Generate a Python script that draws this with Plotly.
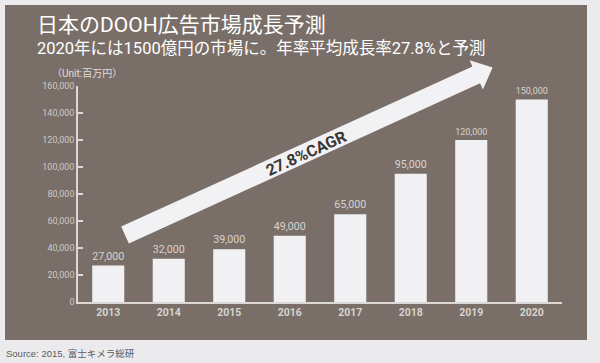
import math
import plotly.graph_objects as go

# ---- data ----
years = ["2013", "2014", "2015", "2016", "2017", "2018", "2019", "2020"]
market_values = [27000, 32000, 39000, 49000, 65000, 95000, 120000, 150000]
value_labels = ["27,000", "32,000", "39,000", "49,000", "65,000", "95,000", "120,000", "150,000"]
y_ticks = [0, 20000, 40000, 60000, 80000, 100000, 120000, 140000, 160000]
y_tick_labels = ["0", "20,000", "40,000", "60,000", "80,000", "100,000", "120,000", "140,000", "160,000"]

title_text = "日本のDOOH広告市場成長予測"
subtitle_text = "2020年には1500億円の市場に。年率平均成長率27.8%と予測"
unit_text = "（Unit:百万円）"
source_text = "Source: 2015, 富士キメラ総研"
cagr_text = "27.8%CAGR"

# ---- layout geometry (pixels) ----
W, H = 600, 363
ML, MR, MT, MB = 78, 38, 86, 61
PW, PH = W - ML - MR, H - MT - MB

def px(x):
    return (x - ML) / PW

def py(y):
    return (H - MB - y) / PH

PANEL = "#7a6f68"
OUTER = "#ebebed"
BAR = "#f1f1f3"
LIGHT = "#d8d3cf"
FONT = "Roboto, 'Noto Sans CJK JP', sans-serif"

fig = go.Figure()
fig.add_trace(go.Bar(
    x=years, y=market_values, text=value_labels,
    textposition="outside", cliponaxis=False,
    textfont=dict(family=FONT, size=11, color=LIGHT),
    marker=dict(color=BAR, line=dict(width=0)),
    hoverinfo="skip",
))

shapes = []
# brown panel
shapes.append(dict(type="rect", xref="paper", yref="paper", layer="below",
                   x0=px(5), x1=px(587), y0=py(340), y1=py(5),
                   fillcolor=PANEL, line=dict(width=0)))

# big arrow
tx, ty = 125, 235
ang = math.radians(24.5)
L = 404
half = 9.25
head_len = 18
head_half = 16
ux, uy = math.cos(ang), -math.sin(ang)
nx, ny = math.sin(ang), math.cos(ang)
tipx, tipy = tx + L * ux, ty + L * uy
bx, by = tipx - head_len * ux, tipy - head_len * uy
pts = [
    (tx - half * nx, ty - half * ny),
    (bx - half * nx, by - half * ny),
    (bx - head_half * nx, by - head_half * ny),
    (tipx, tipy),
    (bx + head_half * nx, by + head_half * ny),
    (bx + half * nx, by + half * ny),
    (tx + half * nx, ty + half * ny),
]
path = "M " + " L ".join(f"{px(a):.5f},{py(b):.5f}" for a, b in pts) + " Z"
shapes.append(dict(type="path", xref="paper", yref="paper", path=path,
                   fillcolor="#f2f2f4", line=dict(width=0), layer="above"))

# text on arrow
t_along = (306 - tx) / ux
cx, cy = tx + t_along * ux, ty + t_along * uy + 1

annotations = [
    dict(text=title_text, xref="paper", yref="paper", x=px(35), y=py(25),
         xanchor="left", yanchor="middle", showarrow=False,
         font=dict(family=FONT, size=21, color="#ffffff")),
    dict(text=subtitle_text, xref="paper", yref="paper", x=px(35), y=py(48),
         xanchor="left", yanchor="middle", showarrow=False,
         font=dict(family=FONT, size=16.5, color="#ffffff")),
    dict(text=unit_text, xref="paper", yref="paper", x=px(50), y=py(73),
         xanchor="left", yanchor="middle", showarrow=False,
         font=dict(family=FONT, size=10, color="#e2dedb")),
    dict(text=source_text, xref="paper", yref="paper", x=px(4), y=py(353),
         xanchor="left", yanchor="middle", showarrow=False,
         font=dict(family="'Liberation Sans', 'Noto Sans CJK JP', sans-serif", size=9.5, color="#5a5a5e")),
    dict(text=f"<b>{cagr_text}</b>", xref="paper", yref="paper", x=px(cx), y=py(cy),
         xanchor="center", yanchor="middle", showarrow=False, textangle=-24.5,
         font=dict(family=FONT, size=16, color="#3a3634")),
]

fig.update_layout(
    width=W, height=H,
    margin=dict(l=ML, r=MR, t=MT, b=MB, pad=0),
    paper_bgcolor=OUTER, plot_bgcolor="rgba(0,0,0,0)",
    showlegend=False, bargap=0.47,
    shapes=shapes, annotations=annotations,
    xaxis=dict(showgrid=False, zeroline=False, showline=True, linecolor="#dcd8d5",
               linewidth=1.5, ticks="", tickfont=dict(family=FONT, size=10.5, color=LIGHT),
               tickprefix="<b>", ticksuffix="</b>", fixedrange=True),
    yaxis=dict(range=[0, 160000], tickvals=y_ticks, ticktext=y_tick_labels,
               showgrid=False, zeroline=False, showline=True, linecolor="#dcd8d5",
               linewidth=1.5, ticks="inside", ticklen=5, tickwidth=1.5, tickcolor="#dcd8d5",
               tickfont=dict(family=FONT, size=9, color="#cfc9c5"), fixedrange=True),
)

fig.write_html("out.html", config={"displayModeBar": False},
               post_script="document.body.style.margin='0px';document.body.style.background='" + OUTER + "';")
